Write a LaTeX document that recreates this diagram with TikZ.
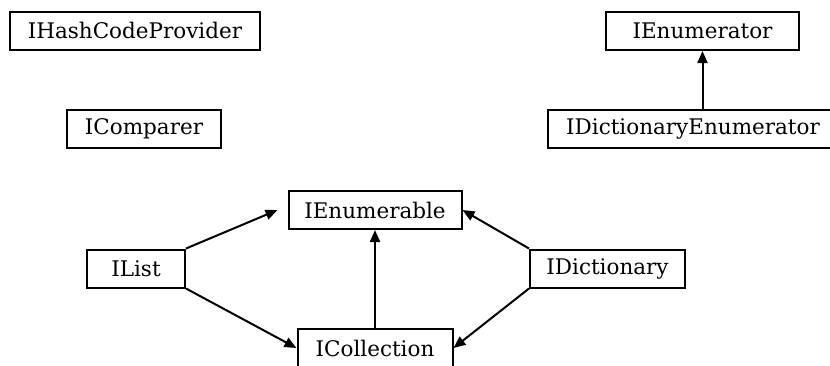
\documentclass[tikz,border=0pt]{standalone}
\usepackage{fontspec}
\setmainfont{DejaVu Serif}
\usetikzlibrary{shapes,arrows.meta,positioning}
\tikzstyle{iface}=[rectangle,draw,line width=2pt,minimum height=38pt,inner sep=0pt,font=\fontsize{21.5}{25}\selectfont]
\tikzstyle{arr}=[-{Triangle[length=12pt,width=10pt]},line width=2pt]

\begin{document}
\begin{tikzpicture}[x=1pt,y=-1pt]
\useasboundingbox (0,0) rectangle (830,365);
\node[iface,minimum width=250pt] (hash) at (135,30.5) {IHashCodeProvider};
\node[iface,minimum width=154pt] (cmp) at (144,129) {IComparer};
\node[iface,minimum width=193pt] (enumr) at (702.5,31) {IEnumerator};
\node[iface,minimum width=290pt] (dictenum) at (693,129) {IDictionaryEnumerator};
\node[iface,minimum width=173pt] (enumb) at (375,210) {IEnumerable};
\node[iface,minimum width=98pt] (list) at (136,268.5) {IList};
\node[iface,minimum width=155pt] (coll) at (375,348) {ICollection};
\node[iface,minimum width=155pt] (dict) at (607.5,268.5) {IDictionary};
\draw[arr] (dictenum.north -| enumr) -- (enumr);
\draw[arr] (list.north east) -- ([xshift=-10pt]enumb.west);
\draw[arr] (list.south east) -- (coll.west);
\draw[arr] (coll) -- (enumb);
\draw[arr] (dict.north west) -- (enumb.east);
\draw[arr] (dict.south west) -- (coll.east);
\end{tikzpicture}
\end{document}
